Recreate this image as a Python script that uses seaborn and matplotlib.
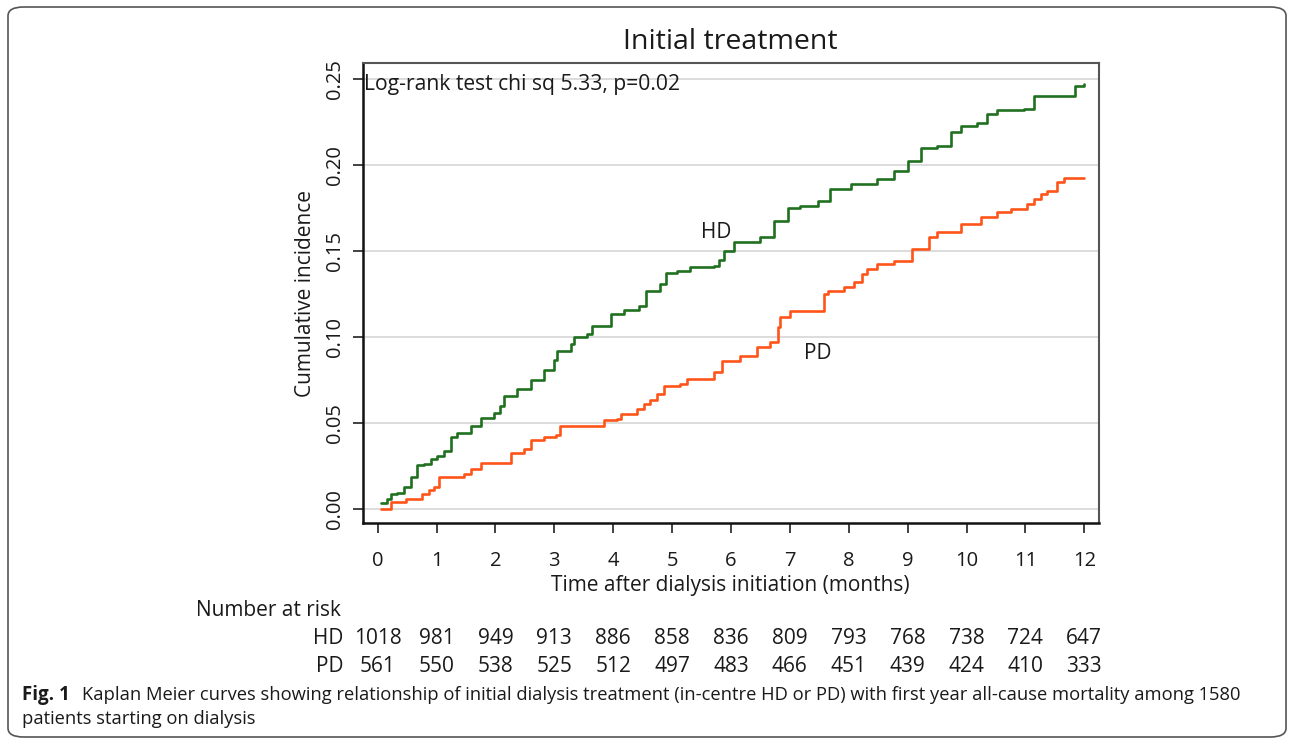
import numpy as np
import pandas as pd
import matplotlib
matplotlib.use("Agg")
import matplotlib.pyplot as plt
import matplotlib.transforms as transforms
from matplotlib.patches import FancyBboxPatch
import seaborn as sns

# Kaplan Meier cumulative incidence
hd_time = [0.05, 0.16, 0.22, 0.33, 0.44, 0.56, 0.67, 0.78, 0.90, 1.01, 1.12, 1.24, 1.35, 1.58,
           1.75, 1.97, 2.07, 2.14, 2.37, 2.60, 2.82, 2.99, 3.05, 3.28, 3.33, 3.56, 3.64, 3.96,
           4.18, 4.44, 4.55, 4.80, 4.89, 5.09, 5.31, 5.71, 5.80, 5.88, 6.05, 6.50, 6.73, 6.96,
           7.18, 7.47, 7.69, 8.03, 8.48, 8.77, 9.00, 9.22, 9.50, 9.73, 9.90, 10.18, 10.35,
           10.52, 10.97, 11.14, 11.85, 12.00]
hd_inc = [0.0035, 0.0058, 0.009, 0.0095, 0.013, 0.0187, 0.0255, 0.026, 0.029, 0.031, 0.034,
          0.042, 0.044, 0.048, 0.053, 0.0556, 0.060, 0.066, 0.070, 0.075, 0.0806, 0.0864, 0.092,
          0.096, 0.100, 0.102, 0.1067, 0.1134, 0.116, 0.118, 0.127, 0.131, 0.137, 0.1386, 0.1405,
          0.1415, 0.145, 0.150, 0.155, 0.158, 0.1676, 0.1753, 0.176, 0.179, 0.186, 0.189, 0.192,
          0.1966, 0.2024, 0.210, 0.211, 0.219, 0.2227, 0.2247, 0.2295, 0.2318, 0.2324, 0.240,
          0.246, 0.247]

pd_time = [0.05, 0.22, 0.475, 0.76, 0.87, 0.95, 1.04, 1.47, 1.58, 1.75, 2.26, 2.48, 2.60, 2.82,
           3.02, 3.10, 3.84, 4.07, 4.13, 4.41, 4.52, 4.63, 4.75, 4.86, 5.14, 5.26, 5.54, 5.71,
           5.85, 6.16, 6.45, 6.67, 6.79, 6.84, 7.01, 7.58, 7.64, 7.92, 8.09, 8.23, 8.31, 8.48,
           8.77, 9.08, 9.36, 9.50, 9.90, 10.24, 10.52, 10.75, 11.03, 11.14, 11.26, 11.37, 11.54,
           11.65, 12.00]
pd_inc = [0.0, 0.0039, 0.0056, 0.009, 0.011, 0.013, 0.0184, 0.0206, 0.0235, 0.027, 0.0327,
          0.035, 0.040, 0.042, 0.043, 0.048, 0.0516, 0.0526, 0.0555, 0.0584, 0.0613, 0.0632,
          0.067, 0.0713, 0.0729, 0.0754, 0.0758, 0.0796, 0.0858, 0.089, 0.094, 0.097, 0.1057,
          0.1115, 0.1154, 0.125, 0.127, 0.129, 0.132, 0.1367, 0.1396, 0.1425, 0.1444, 0.151,
          0.158, 0.161, 0.1657, 0.1695, 0.1725, 0.1744, 0.1773, 0.180, 0.183, 0.185, 0.190,
          0.1924, 0.1924]

risk_months = list(range(13))
hd_risk = [1018, 981, 949, 913, 886, 858, 836, 809, 793, 768, 738, 724, 647]
pd_risk = [561, 550, 538, 525, 512, 497, 483, 466, 451, 439, 424, 410, 333]

colors = {"HD": "#1f701f", "PD": "#ff5419"}

df = pd.concat([
    pd.DataFrame({"time": hd_time, "inc": hd_inc, "group": "HD"}),
    pd.DataFrame({"time": pd_time, "inc": pd_inc, "group": "PD"}),
])

sns.set_theme(style="ticks")
plt.rcParams["font.family"] = ["Open Sans", "DejaVu Sans"]
txt = "#1a1a1a"

fig = plt.figure(figsize=(12.92, 7.43), dpi=100)
ax = fig.add_axes([0.2807, 0.2961, 0.5697, 0.6191])

sns.lineplot(data=df, x="time", y="inc", hue="group", palette=colors, estimator=None,
             drawstyle="steps-post", linewidth=1.9, legend=False, ax=ax, zorder=3)

ax.set_xlim(-0.255, 12.245)
ax.set_ylim(-0.0081, 0.2593)
ax.set_xticks(range(13))
ax.set_yticks([0, 0.05, 0.10, 0.15, 0.20, 0.25])
ax.set_yticklabels(["0.00", "0.05", "0.10", "0.15", "0.20", "0.25"], rotation=90, va="center")
ax.yaxis.grid(True, color="#dcdcdc", linewidth=1.4)
ax.set_axisbelow(True)
ax.tick_params(axis="both", direction="out", length=7, width=1.3, color="#333333",
               labelsize=14.5, labelcolor=txt, pad=6)
ax.tick_params(axis="x", pad=13)

for side in ["left", "bottom"]:
    ax.spines[side].set_color("#111111")
    ax.spines[side].set_linewidth(1.8)
for side in ["top", "right"]:
    ax.spines[side].set_color("#555555")
    ax.spines[side].set_linewidth(1.5)

ax.set_xlabel("Time after dialysis initiation (months)", fontsize=15, color=txt, labelpad=3)
ax.set_ylabel("Cumulative incidence", fontsize=15, color=txt, labelpad=6)
ax.set_title("Initial treatment", fontsize=20.5, color=txt, pad=10)

ax.text(-0.23, 0.2468, "Log-rank test chi sq 5.33, p=0.02", fontsize=15.2, color=txt,
        ha="left", va="center")
ax.text(5.75, 0.161, "HD", fontsize=15, color=txt, ha="center", va="center")
ax.text(7.48, 0.0907, "PD", fontsize=15, color=txt, ha="center", va="center")

# number at risk table under the axis
trans = transforms.blended_transform_factory(ax.transData, fig.transFigure)
fig.text(196 / 1292, 1 - 610 / 743, "Number at risk", fontsize=15, color=txt,
         ha="left", va="center")
for y_px, name, vals in [(639, "HD", hd_risk), (666, "PD", pd_risk)]:
    fig.text(343 / 1292, 1 - y_px / 743, name, fontsize=15, color=txt, ha="right", va="center")
    for m, v in zip(risk_months, vals):
        ax.text(m, 1 - y_px / 743, str(v), transform=trans, fontsize=15, color=txt,
                ha="center", va="center", clip_on=False)

# caption
fig.text(22 / 1292, 1 - 695 / 743, "Fig. 1", fontsize=13.5, fontweight="bold", color=txt,
         ha="left", va="center")
fig.text(82 / 1292, 1 - 695 / 743,
         "Kaplan Meier curves showing relationship of initial dialysis treatment (in-centre HD or PD) "
         "with first year all-cause mortality among 1580",
         fontsize=13.2, color=txt, ha="left", va="center")
fig.text(22 / 1292, 1 - 719 / 743, "patients starting on dialysis", fontsize=13.2, color=txt,
         ha="left", va="center")

frame = FancyBboxPatch((8 / 1292, 6 / 743), 1278 / 1292, 730 / 743,
                       boxstyle="round,pad=0,rounding_size=0.012", transform=fig.transFigure,
                       facecolor="none", edgecolor="#555555", linewidth=1.2)
fig.patches.append(frame)

fig.savefig("out.png", dpi=100)
